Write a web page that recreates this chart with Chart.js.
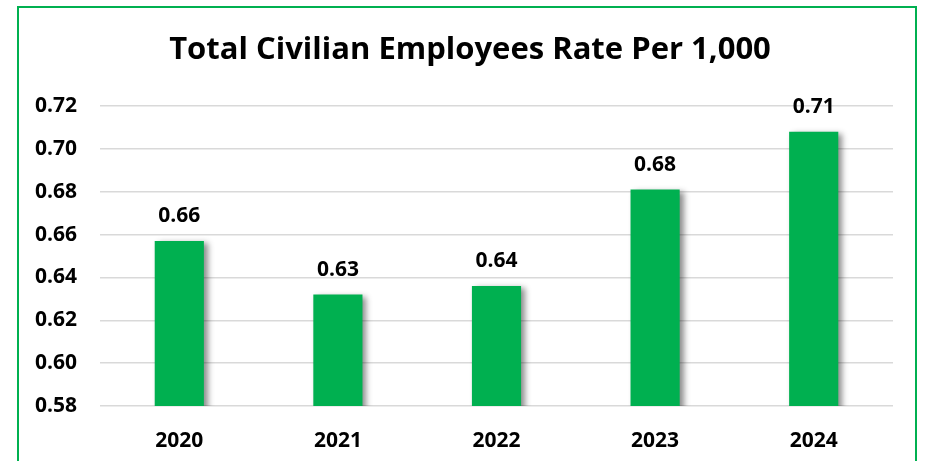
<!DOCTYPE html>
<html>
<head>
<meta charset="utf-8">
<script src="https://cdn.jsdelivr.net/npm/chart.js@4"></script>
<style>
  body { margin: 0; background: #fff; }
  #frame {
    position: absolute; left: 17px; top: 6px;
    width: 900px; height: 480px;
    border: 2px solid #00b050; box-sizing: border-box;
  }
  #wrap { position: absolute; left: 0; top: 0; width: 925px; height: 461px; }
</style>
</head>
<body>
<div id="frame"></div>
<div id="wrap"><canvas id="chart" width="925" height="461"></canvas></div>
<script>
const years = ["2020", "2021", "2022", "2023", "2024"];
const rates = [0.657, 0.632, 0.636, 0.681, 0.708];
const yTicks = [0.58, 0.60, 0.62, 0.64, 0.66, 0.68, 0.70, 0.72];

const FONT = "'Open Sans'";
const barGreen = "#00b050";

// shadow under the bars + value labels above them
const barExtras = {
  id: "barExtras",
  beforeDatasetsDraw(chart) {
    const ctx = chart.ctx;
    ctx.save();
    ctx.shadowColor = "rgba(0,0,0,0.45)";
    ctx.shadowBlur = 6;
    ctx.shadowOffsetX = 4;
    ctx.shadowOffsetY = 2;
  },
  afterDatasetsDraw(chart) {
    const ctx = chart.ctx;
    ctx.restore();
    const meta = chart.getDatasetMeta(0);
    ctx.save();
    ctx.font = "bold 21px " + FONT;
    ctx.fillStyle = "#000";
    ctx.textAlign = "center";
    ctx.textBaseline = "middle";
    meta.data.forEach((bar, i) => {
      ctx.fillText(rates[i].toFixed(2), bar.x, bar.y - 25);
    });
    ctx.restore();
  },
};

new Chart(document.getElementById("chart").getContext("2d"), {
  type: "bar",
  data: {
    labels: years,
    datasets: [
      {
        data: rates,
        backgroundColor: barGreen,
        borderWidth: 0,
        barPercentage: 1,
        categoryPercentage: 0.31,
      },
    ],
  },
  plugins: [barExtras],
  options: {
    responsive: false,
    animation: false,
    layout: { padding: { left: 15, right: 0, top: 0, bottom: 0 } },
    plugins: {
      legend: { display: false },
      tooltip: { enabled: false },
      title: {
        display: true,
        text: "Total Civilian Employees Rate Per 1,000",
        color: "#000",
        font: { family: FONT, size: 31, weight: "bold", lineHeight: 1.2 },
        padding: { top: 32, bottom: 36.8 },
      },
    },
    scales: {
      x: {
        grid: { display: false },
        border: { display: false },
        ticks: {
          color: "#000",
          font: { family: FONT, size: 21, weight: "bold" },
          padding: 14,
        },
        afterFit(scale) { scale.height = 55; },
      },
      y: {
        min: yTicks[0],
        max: yTicks[yTicks.length - 1],
        grid: { color: "#d9d9d9", lineWidth: 1.5, drawTicks: false },
        border: { display: false },
        afterBuildTicks(scale) {
          scale.ticks = yTicks.map((v) => ({ value: v }));
        },
        ticks: {
          color: "#000",
          font: { family: FONT, size: 21, weight: "bold" },
          padding: 23,
          callback: (v) => Number(v).toFixed(2),
        },
        afterFit(scale) { scale.width = 85; },
      },
      // empty right axis, only keeps room so the plot ends where the original does
      spacer: {
        type: "linear",
        position: "right",
        grid: { display: false },
        border: { display: false },
        ticks: { display: false },
        afterFit(scale) { scale.width = 32; },
      },
    },
  },
});
</script>
</body>
</html>
